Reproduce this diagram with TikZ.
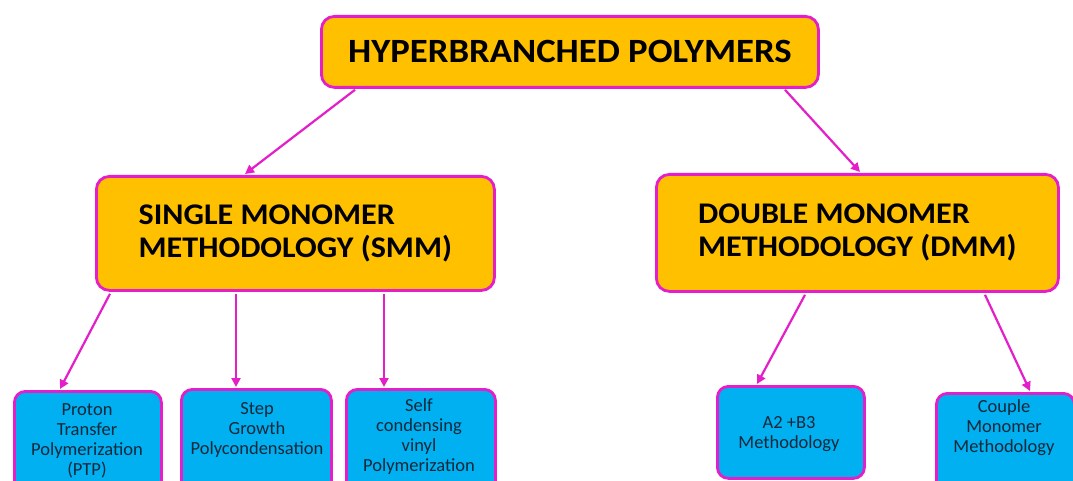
\documentclass[tikz,border=0pt]{standalone}
\usepackage{fontspec}
\setmainfont{Carlito}
\newfontfamily\widefont[FakeStretch=1.08]{Carlito}
\newfontfamily\midfont[FakeStretch=1.07]{Carlito}
\usetikzlibrary{arrows.meta}
\definecolor{orng}{RGB}{255,192,0}
\definecolor{mag}{RGB}{228,30,200}
\definecolor{sky}{RGB}{0,176,240}
\definecolor{ink}{RGB}{20,40,60}
\begin{document}
\begin{tikzpicture}[x=1pt,y=1pt,
  bigbox/.style={draw=mag,line width=2.8pt,fill=orng,rounded corners=13pt,anchor=north west,inner sep=0pt,align=left},
  smallbox/.style={draw=mag,line width=2.8pt,fill=sky,rounded corners=11pt,anchor=north west,inner sep=0pt},
  lbl/.style={align=center,text=ink,font=\fontsize{18.5}{20}\selectfont,inner sep=0pt},
  arr/.style={draw=mag,line width=2.2pt,-{Triangle[length=9pt,width=9pt]}}]
\useasboundingbox (0,0) rectangle (1073,-481);
\fill[white] (0,0) rectangle (1073,-481);
\clip (0,0) rectangle (1073,-481);
% big boxes
\node[bigbox,minimum width=497,minimum height=71,font=\widefont\bfseries\fontsize{34}{38}\selectfont] (top) at (320,-15) {HYPERBRANCHED POLYMERS};
\node[bigbox,minimum width=398,minimum height=114,font=\midfont\bfseries\fontsize{30}{33}\selectfont] (smm) at (95,-175) {SINGLE MONOMER\\METHODOLOGY (SMM)};
\node[bigbox,minimum width=402,minimum height=117,font=\midfont\bfseries\fontsize{30}{33}\selectfont] (dmm) at (655,-173) {DOUBLE MONOMER\\METHODOLOGY (DMM)};
% small boxes
\node[smallbox,minimum width=147,minimum height=110] (ptp) at (13,-390) {};
\node[smallbox,minimum width=150,minimum height=110] (step) at (180,-388) {};
\node[smallbox,minimum width=149,minimum height=110] (self) at (345,-388) {};
\node[smallbox,minimum width=147,minimum height=92] (ab) at (716,-385) {};
\node[smallbox,minimum width=138,minimum height=110] (cpl) at (935,-392) {};
% labels
\node[lbl] (ptpt) at (87,-441) {Proton\\Transfer\\Polymerization\\(PTP)};
\node[lbl] (stept) at (257,-430) {Step\\Growth\\Polycondensation};
\node[lbl] (selft) at (419,-437) {Self\\condensing\\vinyl\\Polymerization};
\node[lbl] (abt) at (789,-434) {A2 +B3\\Methodology};
\node[lbl] (cplt) at (1004,-428) {Couple\\Monomer\\Methodology};
% connectors
\draw[arr] ([xshift=35pt,yshift=-1pt]top.south west) -- ([xshift=150pt,yshift=1pt]smm.north west);
\draw[arr] ([xshift=465pt,yshift=-1pt]top.south west) -- ([xshift=205pt,yshift=1pt]dmm.north west);
\draw[arr] ([xshift=15pt,yshift=-2pt]smm.south west) -- ([xshift=47pt,yshift=1pt]ptp.north west);
\draw[arr] ([xshift=141pt,yshift=-2pt]smm.south west) -- ([xshift=56pt,yshift=1pt]step.north west);
\draw[arr] ([xshift=289pt,yshift=-2pt]smm.south west) -- ([xshift=39pt,yshift=1pt]self.north west);
\draw[arr] ([xshift=150pt,yshift=-2pt]dmm.south west) -- ([xshift=41pt,yshift=1pt]ab.north west);
\draw[arr] ([xshift=330pt,yshift=-2pt]dmm.south west) -- ([xshift=95pt,yshift=1pt]cpl.north west);
\end{tikzpicture}
\end{document}
